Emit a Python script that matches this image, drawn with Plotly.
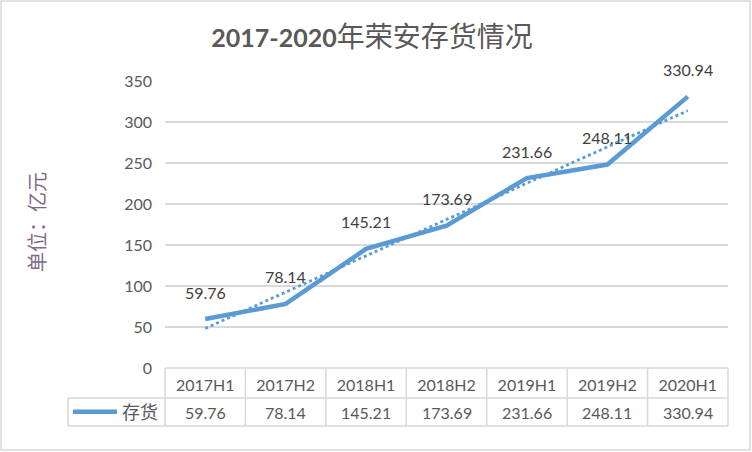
import numpy as np
import plotly.graph_objects as go

periods = ["2017H1", "2017H2", "2018H1", "2018H2", "2019H1", "2019H2", "2020H1"]
inventory = [59.76, 78.14, 145.21, 173.69, 231.66, 248.11, 330.94]
y_ticks = [0, 50, 100, 150, 200, 250, 300, 350]

BLUE = "#5B9BD5"
GRID = "#D9D9D9"
TXT = "#595959"
FONT = "Lato, Noto Sans CJK SC, sans-serif"

FW, FH = 752, 452
# plot area in pixels
L, R, T, B = 165, 728, 81, 368
W, H = R - L, B - T


def px_x(p):
    return (p - L) / W


def px_y(p):
    return (B - p) / H


# linear trend line, like the Excel one
idx = np.arange(1, len(inventory) + 1)
k, b = np.polyfit(idx, inventory, 1)
trend = k * idx + b

fig = go.Figure()
fig.add_trace(go.Scatter(x=periods, y=inventory, mode="lines", name="存货",
                         line=dict(color=BLUE, width=4.5)))
fig.add_trace(go.Scatter(x=periods, y=trend, mode="lines", showlegend=False,
                         line=dict(color=BLUE, width=2.8, dash="dot")))

annotations = []
for p, v in zip(periods, inventory):
    # data labels above the points
    annotations.append(dict(x=p, y=v, text=f"{v:.2f}", showarrow=False, yshift=27,
                            font=dict(family=FONT, size=16, color="#404040")))
    # value row of the data table
    annotations.append(dict(x=p, y=px_y(412), yref="paper", text=f"{v:.2f}", showarrow=False,
                            yanchor="middle", font=dict(family=FONT, size=16, color=TXT)))

annotations.append(dict(x=px_x(36), y=px_y(222), xref="paper", yref="paper", text="单位：亿元",
                        xanchor="center", yanchor="middle", textangle=-90, showarrow=False,
                        font=dict(family="Noto Sans CJK SC", size=20, color="#806A8A")))

line = dict(color=GRID, width=1.5)
shapes = []
# data table grid
shapes.append(dict(type="line", xref="paper", yref="paper", x0=0, x1=1, y0=0, y1=0, line=line))
for yy in (398, 426):
    shapes.append(dict(type="line", xref="paper", yref="paper", x0=px_x(68), x1=1,
                       y0=px_y(yy), y1=px_y(yy), line=line))
shapes.append(dict(type="line", xref="paper", yref="paper", x0=px_x(68), x1=px_x(68),
                   y0=px_y(398), y1=px_y(426), line=line))
for i in range(len(periods) + 1):
    xx = i / len(periods)
    shapes.append(dict(type="line", xref="paper", yref="paper", x0=xx, x1=xx,
                       y0=0, y1=px_y(426), line=line))
# chart border
shapes.append(dict(type="rect", xref="paper", yref="paper", x0=px_x(1), x1=px_x(750),
                   y0=px_y(450), y1=px_y(1), line=dict(color=GRID, width=1.5)))

fig.update_layout(
    width=FW, height=FH,
    margin=dict(l=L, r=FW - R, t=T, b=FH - B),
    paper_bgcolor="white", plot_bgcolor="white",
    title=dict(text="<span style='font-family:Lato;font-size:25px'><b>2017-2020</b></span>年荣安存货情况",
               x=372 / FW, xanchor="center", y=1 - 37 / FH, yanchor="middle",
               font=dict(family=FONT, size=28, color=TXT)),
    showlegend=True,
    legend=dict(x=px_x(68), y=px_y(412), xanchor="left", yanchor="middle", itemwidth=44,
                font=dict(family="Noto Sans CJK SC", size=18, color=TXT),
                bgcolor="rgba(0,0,0,0)"),
    annotations=annotations,
    shapes=shapes,
)
fig.update_xaxes(range=[-0.5, len(periods) - 0.5], showgrid=False, zeroline=False, showline=False,
                 ticks="", ticklabelstandoff=6,
                 tickfont=dict(family=FONT, size=16, color=TXT))
fig.update_yaxes(range=[0, 350], tickvals=y_ticks, showgrid=True, gridcolor=GRID, gridwidth=1.5,
                 zeroline=False, showline=False, ticks="", ticklabelstandoff=12,
                 tickfont=dict(family=FONT, size=16, color=TXT))

# drop the default body margin so the figure fills the window
fig.write_html("out.html", config={"displayModeBar": False},
               post_script="document.body.style.margin = '0';")
